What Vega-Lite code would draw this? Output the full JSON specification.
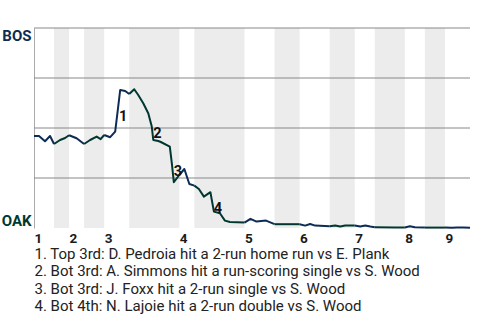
{
  "$schema": "https://vega.github.io/schema/vega-lite/v6.json",
  "width": 436,
  "height": 200,
  "autosize": "none",
  "padding": {"left": 34, "top": 28, "right": 10, "bottom": 92},
  "background": "white",
  "config": {
    "view": {"stroke": null},
    "font": "Roboto"
  },
  "datasets": {
    "bands": [
      {"start": 4, "end": 7},
      {"start": 10, "end": 14},
      {"start": 19, "end": 29},
      {"start": 32, "end": 42},
      {"start": 48, "end": 53},
      {"start": 59, "end": 64},
      {"start": 68, "end": 74},
      {"start": 78, "end": 82}
    ],
    "grid": [{"v": 0.25}, {"v": 0.5}, {"v": 0.75}, {"v": 1}],
    "wp": [
      {"pa": 0, "wp": 0.46, "half": "T1", "team": "BOS"},
      {"pa": 1, "wp": 0.46, "half": "T1", "team": "BOS"},
      {"pa": 2.2, "wp": 0.434, "half": "T1", "team": "BOS"},
      {"pa": 3.2, "wp": 0.46, "half": "T1", "team": "BOS"},
      {"pa": 4, "wp": 0.42, "half": "T1", "team": "BOS"},
      {"pa": 4, "wp": 0.42, "half": "B1", "team": "OAK"},
      {"pa": 5.2, "wp": 0.44, "half": "B1", "team": "OAK"},
      {"pa": 6.2, "wp": 0.45, "half": "B1", "team": "OAK"},
      {"pa": 7, "wp": 0.464, "half": "B1", "team": "OAK"},
      {"pa": 7, "wp": 0.464, "half": "T2", "team": "BOS"},
      {"pa": 8.5, "wp": 0.449, "half": "T2", "team": "BOS"},
      {"pa": 10, "wp": 0.42, "half": "T2", "team": "BOS"},
      {"pa": 10, "wp": 0.42, "half": "B2", "team": "OAK"},
      {"pa": 11.2, "wp": 0.44, "half": "B2", "team": "OAK"},
      {"pa": 12.5, "wp": 0.457, "half": "B2", "team": "OAK"},
      {"pa": 13.3, "wp": 0.444, "half": "B2", "team": "OAK"},
      {"pa": 14, "wp": 0.465, "half": "B2", "team": "OAK"},
      {"pa": 14, "wp": 0.465, "half": "T3", "team": "BOS"},
      {"pa": 15.2, "wp": 0.454, "half": "T3", "team": "BOS"},
      {"pa": 16.2, "wp": 0.482, "half": "T3", "team": "BOS"},
      {"pa": 17.2, "wp": 0.69, "half": "T3", "team": "BOS"},
      {"pa": 18.2, "wp": 0.685, "half": "T3", "team": "BOS"},
      {"pa": 19, "wp": 0.67, "half": "T3", "team": "BOS"},
      {"pa": 19, "wp": 0.67, "half": "B3", "team": "OAK"},
      {"pa": 20, "wp": 0.694, "half": "B3", "team": "OAK"},
      {"pa": 20.8, "wp": 0.665, "half": "B3", "team": "OAK"},
      {"pa": 21.8, "wp": 0.624, "half": "B3", "team": "OAK"},
      {"pa": 22.8, "wp": 0.574, "half": "B3", "team": "OAK"},
      {"pa": 23.5, "wp": 0.507, "half": "B3", "team": "OAK"},
      {"pa": 23.8, "wp": 0.44, "half": "B3", "team": "OAK"},
      {"pa": 24.8, "wp": 0.435, "half": "B3", "team": "OAK"},
      {"pa": 25.3, "wp": 0.43, "half": "B3", "team": "OAK"},
      {"pa": 27.1, "wp": 0.407, "half": "B3", "team": "OAK"},
      {"pa": 27.5, "wp": 0.324, "half": "B3", "team": "OAK"},
      {"pa": 27.9, "wp": 0.229, "half": "B3", "team": "OAK"},
      {"pa": 29, "wp": 0.265, "half": "B3", "team": "OAK"},
      {"pa": 29, "wp": 0.265, "half": "T4", "team": "BOS"},
      {"pa": 30, "wp": 0.295, "half": "T4", "team": "BOS"},
      {"pa": 31, "wp": 0.22, "half": "T4", "team": "BOS"},
      {"pa": 32, "wp": 0.212, "half": "T4", "team": "BOS"},
      {"pa": 32, "wp": 0.212, "half": "B4", "team": "OAK"},
      {"pa": 32.9, "wp": 0.195, "half": "B4", "team": "OAK"},
      {"pa": 33.9, "wp": 0.157, "half": "B4", "team": "OAK"},
      {"pa": 35.2, "wp": 0.179, "half": "B4", "team": "OAK"},
      {"pa": 35.9, "wp": 0.082, "half": "B4", "team": "OAK"},
      {"pa": 37.1, "wp": 0.074, "half": "B4", "team": "OAK"},
      {"pa": 38.1, "wp": 0.037, "half": "B4", "team": "OAK"},
      {"pa": 39.1, "wp": 0.03, "half": "B4", "team": "OAK"},
      {"pa": 42, "wp": 0.027, "half": "B4", "team": "OAK"},
      {"pa": 42, "wp": 0.027, "half": "T5", "team": "BOS"},
      {"pa": 43.2, "wp": 0.046, "half": "T5", "team": "BOS"},
      {"pa": 44.4, "wp": 0.032, "half": "T5", "team": "BOS"},
      {"pa": 46.3, "wp": 0.037, "half": "T5", "team": "BOS"},
      {"pa": 48, "wp": 0.019, "half": "T5", "team": "BOS"},
      {"pa": 48, "wp": 0.019, "half": "B5", "team": "OAK"},
      {"pa": 53, "wp": 0.019, "half": "B5", "team": "OAK"},
      {"pa": 53, "wp": 0.019, "half": "T6", "team": "BOS"},
      {"pa": 54.1, "wp": 0.012, "half": "T6", "team": "BOS"},
      {"pa": 55.1, "wp": 0.02, "half": "T6", "team": "BOS"},
      {"pa": 56.1, "wp": 0.012, "half": "T6", "team": "BOS"},
      {"pa": 59, "wp": 0.009, "half": "T6", "team": "BOS"},
      {"pa": 59, "wp": 0.009, "half": "B6", "team": "OAK"},
      {"pa": 60.1, "wp": 0.012, "half": "B6", "team": "OAK"},
      {"pa": 61.1, "wp": 0.007, "half": "B6", "team": "OAK"},
      {"pa": 62.1, "wp": 0.012, "half": "B6", "team": "OAK"},
      {"pa": 64, "wp": 0.012, "half": "B6", "team": "OAK"},
      {"pa": 64, "wp": 0.012, "half": "T7", "team": "BOS"},
      {"pa": 65.1, "wp": 0.007, "half": "T7", "team": "BOS"},
      {"pa": 66.1, "wp": 0.012, "half": "T7", "team": "BOS"},
      {"pa": 67.1, "wp": 0.007, "half": "T7", "team": "BOS"},
      {"pa": 68, "wp": 0.004, "half": "T7", "team": "BOS"},
      {"pa": 68, "wp": 0.004, "half": "B7", "team": "OAK"},
      {"pa": 72, "wp": 0.003, "half": "B7", "team": "OAK"},
      {"pa": 74, "wp": 0.003, "half": "B7", "team": "OAK"},
      {"pa": 74, "wp": 0.003, "half": "T8", "team": "BOS"},
      {"pa": 75, "wp": 0.0085, "half": "T8", "team": "BOS"},
      {"pa": 76, "wp": 0.0035, "half": "T8", "team": "BOS"},
      {"pa": 78, "wp": 0.002, "half": "T8", "team": "BOS"},
      {"pa": 78, "wp": 0.002, "half": "B8", "team": "OAK"},
      {"pa": 81, "wp": 0.002, "half": "B8", "team": "OAK"},
      {"pa": 82, "wp": 0.002, "half": "B8", "team": "OAK"},
      {"pa": 82, "wp": 0.002, "half": "T9", "team": "BOS"},
      {"pa": 83.4, "wp": 0.001, "half": "T9", "team": "BOS"},
      {"pa": 84.4, "wp": 0.003, "half": "T9", "team": "BOS"},
      {"pa": 85.7, "wp": 0.002, "half": "T9", "team": "BOS"},
      {"pa": 87, "wp": 0.001, "half": "T9", "team": "BOS"}
    ],
    "notes": [
      {"n": "1", "pa": 17.8, "wp": 0.555},
      {"n": "2", "pa": 24.6, "wp": 0.47},
      {"n": "3", "pa": 28.7, "wp": 0.28},
      {"n": "4", "pa": 36.7, "wp": 0.0975}
    ]
  },
  "layer": [
    {
      "data": {"name": "bands"},
      "mark": {"type": "rect", "color": "#ececec"},
      "encoding": {
        "x": {"field": "start", "type": "quantitative", "scale": {"domain": [0, 87], "nice": false, "zero": false}},
        "x2": {"field": "end"},
        "y": {"datum": 0, "type": "quantitative", "scale": {"domain": [0, 1], "nice": false}},
        "y2": {"datum": 1}
      }
    },
    {
      "data": {"name": "grid"},
      "mark": {"type": "rule", "color": "#888888", "strokeWidth": 1},
      "encoding": {
        "y": {"field": "v", "type": "quantitative"}
      }
    },
    {
      "data": {"name": "wp"},
      "mark": {"type": "line", "strokeWidth": 2, "strokeJoin": "round"},
      "encoding": {
        "x": {
          "field": "pa",
          "type": "quantitative",
          "axis": {
            "values": [0, 7, 14, 29, 42, 53, 64, 74, 82],
            "labelExpr": "indexof([0, 7, 14, 29, 42, 53, 64, 74, 82], datum.value) + 1",
            "domain": false,
            "ticks": false,
            "grid": false,
            "labelAlign": "left",
            "labelBaseline": "top",
            "labelPadding": 3,
            "labelFlush": false,
            "labelOverlap": false,
            "labelFont": "Roboto",
            "labelFontSize": 13.5,
            "labelFontWeight": "bold",
            "labelColor": "#1a1a1a",
            "title": [
              "1. Top 3rd: D. Pedroia hit a 2-run home run vs E. Plank",
              "2. Bot 3rd: A. Simmons hit a run-scoring single vs S. Wood",
              "3. Bot 3rd: J. Foxx hit a 2-run single vs S. Wood",
              "4. Bot 4th: N. Lajoie hit a 2-run double vs S. Wood"
            ],
            "titleFont": "Roboto",
            "titleFontSize": 15,
            "titleFontWeight": "normal",
            "titleColor": "#222222",
            "titleAlign": "left",
            "titleAnchor": "start",
            "titleBaseline": "alphabetic",
            "titleLineHeight": 17.5,
            "titleX": 0,
            "titleY": 30
          }
        },
        "y": {
          "field": "wp",
          "type": "quantitative",
          "axis": {
            "values": [0, 1],
            "labelExpr": "datum.value == 1 ? 'BOS' : 'OAK'",
            "domain": true,
            "domainColor": "#aaaaaa",
            "ticks": false,
            "grid": false,
            "labelPadding": 3,
            "labelFont": "Roboto",
            "labelFontSize": 15,
            "labelFontWeight": "bold",
            "labelColor": {"condition": {"test": "datum.value == 1", "value": "#0C2C56"}, "value": "#003831"},
            "labelBaseline": {"condition": {"test": "datum.value == 1", "value": "top"}, "value": "bottom"},
            "title": null
          }
        },
        "color": {"field": "team", "type": "nominal", "scale": {"domain": ["BOS", "OAK"], "range": ["#0C2C56", "#003831"]}, "legend": null},
        "detail": {"field": "half"}
      }
    },
    {
      "data": {"name": "notes"},
      "mark": {"type": "text", "font": "Roboto", "fontSize": 14.5, "fontWeight": "bold", "color": "#111111", "align": "center", "baseline": "middle"},
      "encoding": {
        "x": {"field": "pa", "type": "quantitative"},
        "y": {"field": "wp", "type": "quantitative"},
        "text": {"field": "n"}
      }
    }
  ]
}
